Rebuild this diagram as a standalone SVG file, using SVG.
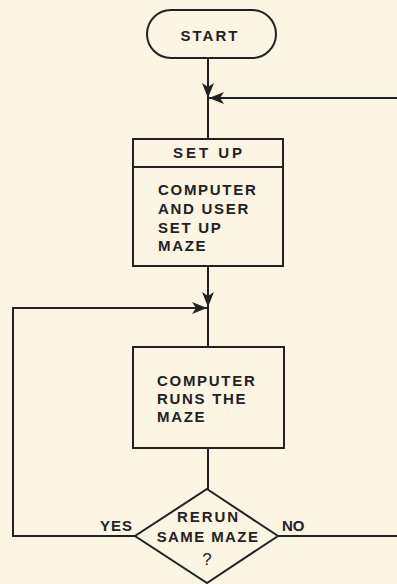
<svg xmlns="http://www.w3.org/2000/svg" width="397" height="584" viewBox="0 0 397 584">
<defs>
<style>
.ln{fill:none;stroke:#222;stroke-width:2}
.sh{fill:none;stroke:#222;stroke-width:2}
.t{font-family:"Liberation Sans",Arial,sans-serif;font-weight:bold;font-size:15px;fill:#222;letter-spacing:1.7px}
.c{text-anchor:middle}
</style>
<marker id="ah" markerUnits="userSpaceOnUse" markerWidth="16" markerHeight="12" viewBox="0 0 16 12" refX="15" refY="6" orient="auto">
<path d="M0,0 L15,6 L0,12 L4,6 Z" fill="#222"/>
</marker>
</defs>
<rect width="397" height="584" fill="#fcf5e4"/>
<g id="connectors">
<path class="ln" d="M208,58 V98" marker-end="url(#ah)"/>
<path class="ln" d="M400,98 H209" marker-end="url(#ah)"/>
<path class="ln" d="M208,98 V139"/>
<path class="ln" d="M208,266 V307" marker-end="url(#ah)"/>
<path class="ln" d="M135,536 H13 V308 H207" marker-end="url(#ah)"/>
<path class="ln" d="M208,307 V347"/>
<path class="ln" d="M208,448 V489"/>
<path class="ln" d="M278,536 H400"/>
</g>
<g id="start">
<rect class="sh" x="147" y="10" width="129" height="48" rx="24"/>
<text class="t c" x="210" y="41" style="letter-spacing:2px">START</text>
</g>
<g id="setup">
<rect class="sh" x="133" y="139" width="150" height="127"/>
<line class="sh" x1="133" y1="167" x2="283" y2="167"/>
<text class="t c" x="209" y="158" style="letter-spacing:3px">SET UP</text>
<text class="t" x="158" y="195">COMPUTER</text>
<text class="t" x="158" y="214">AND USER</text>
<text class="t" x="158" y="233">SET UP</text>
<text class="t" x="158" y="251">MAZE</text>
</g>
<g id="run">
<rect class="sh" x="133" y="347" width="151" height="101"/>
<text class="t" x="157" y="386">COMPUTER</text>
<text class="t" x="157" y="404">RUNS THE</text>
<text class="t" x="157" y="422">MAZE</text>
</g>
<g id="decision">
<polygon class="sh" points="207,489 278,536 207,583 135,536"/>
<text class="t c" x="208.5" y="522" style="letter-spacing:1.9px">RERUN</text>
<text class="t c" x="208" y="542" style="letter-spacing:1.4px">SAME MAZE</text>
<text class="t c" x="207" y="565" style="font-weight:normal;font-size:17px;letter-spacing:0">?</text>
<text class="t" x="100" y="531" style="letter-spacing:1px">YES</text>
<text class="t" x="282" y="531" style="letter-spacing:0">NO</text>
</g>
</svg>
